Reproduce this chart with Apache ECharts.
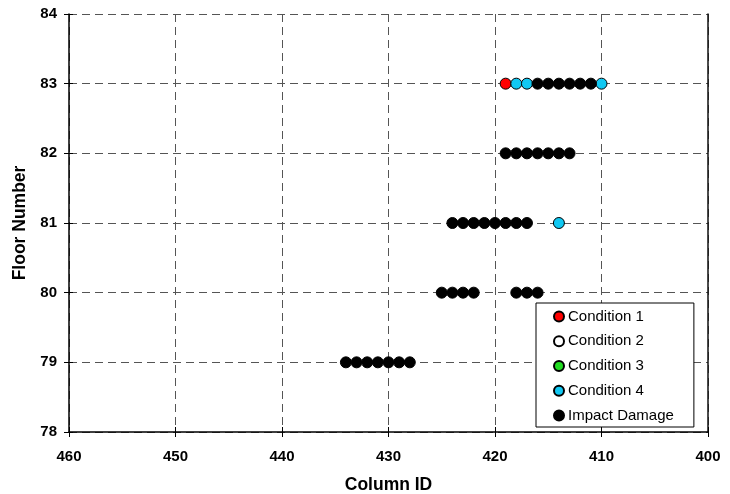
<!DOCTYPE html>
<html>
<head>
<meta charset="utf-8">
<script src="https://cdn.jsdelivr.net/npm/echarts@6/dist/echarts.min.js"></script>
<style>html,body{margin:0;padding:0;background:#fff}#c{width:730px;height:494px}</style>
</head>
<body>
<div id="c"></div>
<script>
// Series data: [column ID, floor number]
var condition1 = [[419, 83]];
var condition2 = [];
var condition3 = [];
var condition4 = [[418, 83], [417, 83], [410, 83], [414, 81]];
var impactDamage = [
  [416, 83], [415, 83], [414, 83], [413, 83], [412, 83], [411, 83],
  [419, 82], [418, 82], [417, 82], [416, 82], [415, 82], [414, 82], [413, 82],
  [424, 81], [423, 81], [422, 81], [421, 81], [420, 81], [419, 81], [418, 81], [417, 81],
  [425, 80], [424, 80], [423, 80], [422, 80], [418, 80], [417, 80], [416, 80],
  [434, 79], [433, 79], [432, 79], [431, 79], [430, 79], [429, 79], [428, 79]
];
var seriesNames = ['Condition 1', 'Condition 2', 'Condition 3', 'Condition 4', 'Impact Damage'];
var seriesColors = ['#FF0000', '#FFFFFF', '#22DD22', '#11C8F2', '#000000'];
var seriesData = [condition1, condition2, condition3, condition4, impactDamage];
var xMin = 400, xMax = 460, xStep = 10;
var yMin = 78, yMax = 84, yStep = 1;

var FONT = '"Liberation Sans", Arial, sans-serif';
var chart = echarts.init(document.getElementById('c'), null, {renderer: 'canvas'});
var gridDash = {color: '#555', type: [8, 5], width: 1};
var labelStyle = {color: '#000', fontFamily: FONT, fontWeight: 'bold', fontSize: 15};
var titleStyle = {color: '#000', fontFamily: FONT, fontWeight: 'bold', fontSize: 17.5};

var series = seriesNames.map(function (n, i) {
  return {
    name: n, type: 'scatter', data: seriesData[i], symbol: 'circle', symbolSize: 11,
    itemStyle: {color: seriesColors[i], borderColor: '#000', borderWidth: 1, opacity: 1},
    emphasis: {disabled: true}, z: 5
  };
});

chart.setOption({
  animation: false,
  backgroundColor: '#fff',
  grid: {left: 69, right: 22, top: 14, bottom: 62, containLabel: false, outerBoundsMode: 'none'},
  xAxis: [{
    type: 'value', min: xMin, max: xMax, interval: xStep, inverse: true,
    name: 'Column ID', nameLocation: 'middle', nameGap: 44,
    nameTextStyle: titleStyle,
    axisLine: {show: true, onZero: false, lineStyle: {color: '#000', width: 1.5}},
    axisTick: {show: true, length: 5, lineStyle: {color: '#000', width: 1}},
    axisLabel: Object.assign({margin: 17}, labelStyle),
    splitLine: {show: true, lineStyle: gridDash}
  }, {
    type: 'value', min: xMin, max: xMax, interval: xStep, inverse: true, position: 'bottom',
    axisLine: {show: false}, axisTick: {show: true, inside: true, length: 5, lineStyle: {color: '#000'}},
    axisLabel: {show: false}, splitLine: {show: false}
  }],
  yAxis: [{
    type: 'value', min: yMin, max: yMax, interval: yStep,
    name: 'Floor Number', nameLocation: 'middle', nameGap: 35, nameRotate: 90,
    nameTextStyle: titleStyle,
    axisLine: {show: true, onZero: false, lineStyle: {color: '#000', width: 1.5}},
    axisTick: {show: true, length: 5, lineStyle: {color: '#000', width: 1}},
    axisLabel: Object.assign({margin: 12}, labelStyle),
    splitLine: {show: true, lineStyle: gridDash}
  }, {
    type: 'value', min: yMin, max: yMax, interval: yStep, position: 'left',
    axisLine: {show: false}, axisTick: {show: true, inside: true, length: 4, lineStyle: {color: '#000'}},
    axisLabel: {show: false}, splitLine: {show: false}
  }, {
    type: 'value', min: yMin, max: yMax, interval: yStep, position: 'right',
    axisLine: {show: true, onZero: false, lineStyle: {color: '#111', width: 1.5}},
    axisTick: {show: false}, axisLabel: {show: false}, splitLine: {show: false}
  }],
  legend: {
    data: seriesNames, orient: 'vertical', left: 536, top: 303,
    backgroundColor: '#fff', borderColor: '#000', borderWidth: 1, borderRadius: 0,
    padding: [6, 20, 4, 17], itemGap: 9.75, itemWidth: 10, itemHeight: 10,
    icon: 'circle', selectedMode: false,
    textStyle: {color: '#000', fontFamily: FONT, fontSize: 15, lineHeight: 15, padding: [0, 0, 0, -1]},
    z: 10
  },
  series: series
});
</script>
</body>
</html>
